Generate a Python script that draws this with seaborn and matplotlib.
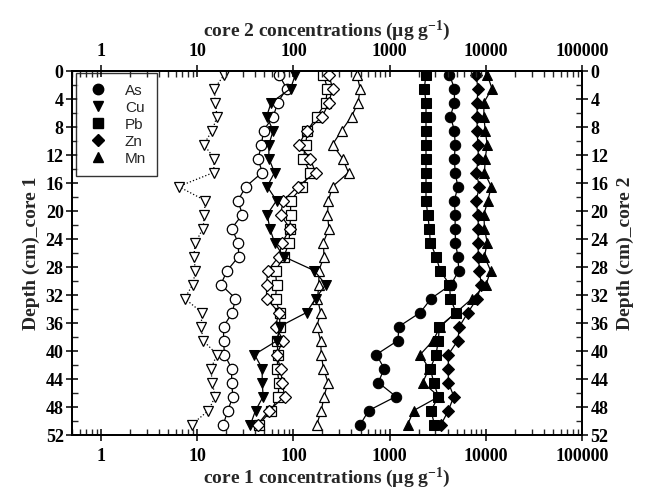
import numpy as np
import pandas as pd
import matplotlib
matplotlib.use("Agg")
import matplotlib.pyplot as plt
from matplotlib.lines import Line2D
from matplotlib.ticker import FixedLocator, NullFormatter, LogLocator
import seaborn as sns

# depth of each slice (cm), same for both cores
depth = [0.5, 2.5, 4.5, 6.5, 8.5, 10.5, 12.5, 14.5, 16.5, 18.5, 20.5, 22.5, 24.5,
         26.5, 28.5, 30.5, 32.5, 34.5, 36.5, 38.5, 40.5, 42.5, 44.5, 46.5, 48.5, 50.5]

# core 1 (open symbols)
as_core1 = [70.6, 85, 68.9, 61.7, 48.9, 46.6, 43, 47.4, 32.1, 26.5, 29.5, 22.8, 26.7,
            27, 20.5, 17.6, 25, 23.2, 18.8, 18.8, 19.2, 22.8, 22.8, 23.5, 20.8, 18.7]
cu_core1 = [19.2, 15.1, 15.4, 16.1, 14.3, 11.7, 15.1, 14.8, 6.4, 12.1, 11.9, 11.5, 9.6,
            9.2, 9.6, 9.0, 7.4, 11.2, 11.0, 11.5, 16.1, 13.9, 14.3, 15.4, 13.1, 8.8]
pb_core1 = [205, 226, 217, 175, 140, 134, 127, 149, 124, 93.5, 93.5, 92, 90,
            80, 65.2, 66.8, 65.2, 71.8, 72.3, 67.9, 68.9, 67.9, 70.6, 69.6, 58.8, 43.7]
zn_core1 = [234, 255, 234, 200, 137, 114, 149, 170, 111, 78.5, 73.6, 92, 76.6,
            70.6, 54.2, 52.6, 52.6, 70.6, 65.2, 78.5, 66.8, 73.6, 76.6, 81, 55.6, 42.6]
mn_core1 = [456, 494, 471, 402, 318, 255, 324, 374, 255, 231, 226, 234, 205,
            208, 184, 184, 178, 192, 175, 192, 195, 205, 229, 208, 195, 175]

# core 2 (filled symbols)
as_core2 = [4180, 4720, 4720, 4285, 4720, 4800, 4720, 4800, 5120, 4720, 4800, 4800, 4840,
            5120, 5240, 4360, 2700, 2085, 1250, 1220, 728, 879, 764, 1163, 606, 496]
cu_core2 = [105, 93.5, 58.8, 52.6, 61.7, 55.6, 55.6, 63.7, 53.4, 66.8, 53.4, 56.9, 63.7,
            79, 164, 217, 170, 137, 72, 68, 39.4, 47.4, 47.4, 48.5, 40.4, 35.8]
pb_core2 = [2390, 2295, 2390, 2390, 2390, 2390, 2390, 2390, 2390, 2390, 2490, 2590, 2650,
            3040, 3350, 4190, 4290, 4910, 3290, 3210, 3040, 2650, 2875, 3210, 2700, 2920]
zn_core2 = [7940, 8270, 8130, 8130, 8130, 8270, 8390, 7940, 8590, 7940, 8270, 8390, 8270,
            8390, 8590, 8960, 8130, 6510, 5320, 5120, 4080, 4080, 4080, 4650, 4080, 3430]
mn_core2 = [10340, 11590, 9550, 9550, 9860, 10340, 9860, 9690, 11380, 10510, 9550, 9690, 10340,
            9690, 11200, 10090, 7210, 4910, 3370, 2830, 2085, 2570, 2210, 3265, 1780, 1540]

elements = ["As", "Cu", "Pb", "Zn", "Mn"]
markers = {"As": "o", "Cu": "v", "Pb": "s", "Zn": "D", "Mn": "^"}
msize = {"As": 7.5, "Cu": 7.5, "Pb": 6.5, "Zn": 6.5, "Mn": 7.5}
core1 = {"As": as_core1, "Cu": cu_core1, "Pb": pb_core1, "Zn": zn_core1, "Mn": mn_core1}
core2 = {"As": as_core2, "Cu": cu_core2, "Pb": pb_core2, "Zn": zn_core2, "Mn": mn_core2}

sns.set_style("ticks")
serif = ["Liberation Serif", "DejaVu Serif"]
plt.rcParams["font.family"] = serif
plt.rcParams["font.weight"] = "bold"
plt.rcParams["mathtext.fontset"] = "custom"
plt.rcParams["mathtext.rm"] = "Liberation Serif:bold"
plt.rcParams["mathtext.bf"] = "Liberation Serif:bold"
plt.rcParams["mathtext.default"] = "bf"

fig = plt.figure(figsize=(6.56, 4.97), dpi=100)
ax = fig.add_axes([0.1098, 0.1247, 0.7774, 0.7324])

# core 1: open symbols (Cu with dotted line)
for el in elements:
    df = pd.DataFrame({"conc": core1[el], "depth": depth})
    sns.lineplot(data=df, x="conc", y="depth", ax=ax, sort=False, estimator=None,
                 color="black", linewidth=0.9,
                 linestyle=":" if el == "Cu" else "-",
                 marker=markers[el], markersize=msize[el],
                 markerfacecolor="white", markeredgecolor="black", markeredgewidth=0.9)

# core 2: filled symbols
for el in elements:
    df = pd.DataFrame({"conc": core2[el], "depth": depth})
    sns.lineplot(data=df, x="conc", y="depth", ax=ax, sort=False, estimator=None,
                 color="black", linewidth=0.9,
                 marker=markers[el], markersize=msize[el],
                 markerfacecolor="black", markeredgecolor="black")

ax.set_xscale("log")
ax.set_xlim(0.5, 100000)
ax.set_ylim(52, 0)

xt = [1, 10, 100, 1000, 10000, 100000]
xl = ["1", "10", "100", "1000", "10000", "100000"]
yt = list(range(0, 53, 4))

ax.set_xticks(xt)
ax.set_xticklabels(xl)
ax.xaxis.set_minor_locator(LogLocator(base=10, subs=np.arange(2, 10)))
ax.xaxis.set_minor_formatter(NullFormatter())
ax.set_yticks(yt)
ax.yaxis.set_minor_locator(FixedLocator(list(range(2, 52, 4))))

ax.set_xlabel("core 1 concentrations (µg g$^{-1}$)", fontsize=14,
              fontweight="bold", labelpad=1)
ax.set_ylabel("Depth (cm)_core 1", fontsize=14, fontweight="bold", labelpad=4)

axt = ax.twiny()
axt.set_xscale("log")
axt.set_xlim(0.5, 100000)
axt.set_xticks(xt)
axt.set_xticklabels(xl)
axt.xaxis.set_minor_locator(LogLocator(base=10, subs=np.arange(2, 10)))
axt.xaxis.set_minor_formatter(NullFormatter())
axt.set_xlabel("core 2 concentrations (µg g$^{-1}$)", fontsize=14,
               fontweight="bold", labelpad=5)

axr = ax.twinx()
axr.set_ylim(52, 0)
axr.set_yticks(yt)
axr.yaxis.set_minor_locator(FixedLocator(list(range(2, 52, 4))))
axr.set_ylabel("Depth (cm)_core 2", fontsize=14, fontweight="bold", labelpad=6)

for a in (ax, axt, axr):
    for s in a.spines.values():
        s.set_visible(True)
        s.set_linewidth(1.2)
        s.set_color("black")
    a.tick_params(which="major", direction="inout", length=8, width=1.1,
                  labelsize=13, colors="black")
    a.tick_params(which="minor", direction="in", length=4, width=1.0)
    for lab in a.get_xticklabels() + a.get_yticklabels():
        lab.set_fontweight("bold")
ax.tick_params(axis="y", pad=2)
axr.tick_params(axis="y", pad=2)
ax.tick_params(axis="x", pad=5)
axt.tick_params(axis="x", pad=4)

handles = [Line2D([], [], linestyle="none", marker=markers[el], markersize=msize[el],
                  markerfacecolor="black", markeredgecolor="black") for el in elements]
leg = ax.legend(handles, elements, loc="upper left", bbox_to_anchor=(0.008, 0.995),
                borderaxespad=0, frameon=True, fancybox=False, handletextpad=1.0,
                labelspacing=0.2, borderpad=0.7, handlelength=1.5,
                prop={"family": ["Liberation Sans"], "size": 11, "weight": "normal"})
leg.get_frame().set_edgecolor("black")
leg.get_frame().set_linewidth(1.0)

fig.savefig("out.png", dpi=100)
